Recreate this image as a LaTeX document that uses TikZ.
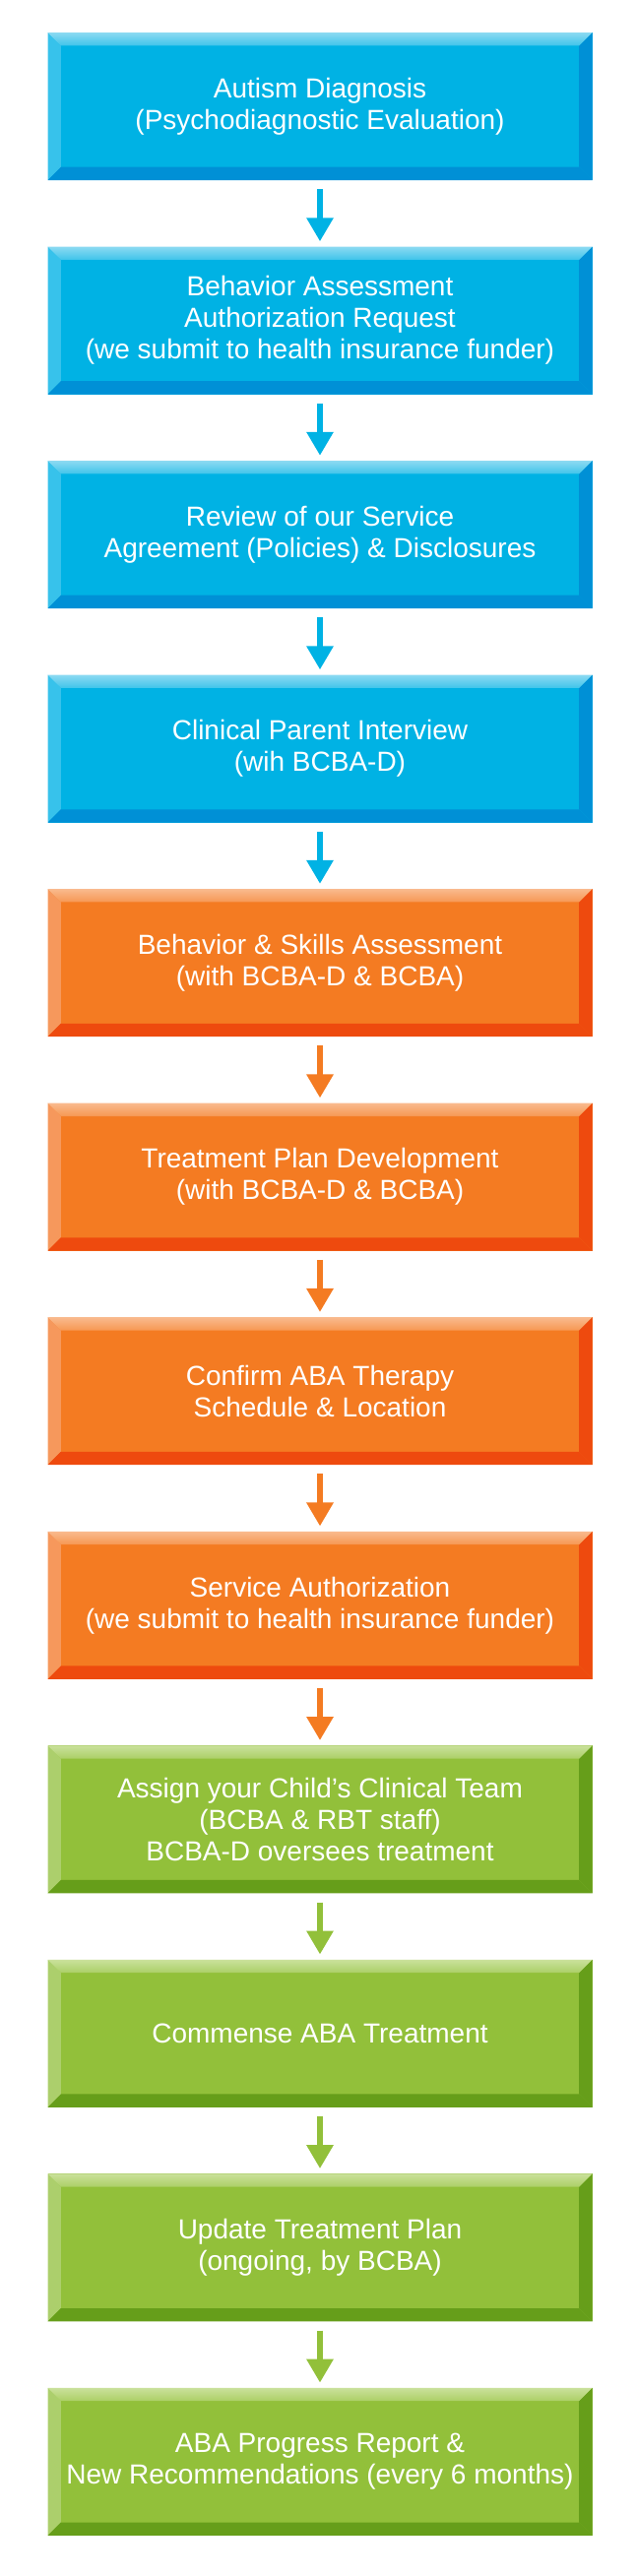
\documentclass[tikz,border=0pt]{standalone}
\usepackage{fontspec}
\setmainfont{Liberation Sans}
\usetikzlibrary{arrows.meta,positioning}
\definecolor{blueMain}{RGB}{0,178,228}
\definecolor{blueTop}{RGB}{140,218,242}
\definecolor{blueSide}{RGB}{55,194,235}
\definecolor{blueDark}{RGB}{0,144,214}
\definecolor{orangeMain}{RGB}{244,123,34}
\definecolor{orangeTop}{RGB}{249,186,142}
\definecolor{orangeSide}{RGB}{246,152,92}
\definecolor{orangeDark}{RGB}{238,74,14}
\definecolor{greenMain}{RGB}{146,192,58}
\definecolor{greenTop}{RGB}{202,225,156}
\definecolor{greenSide}{RGB}{172,207,108}
\definecolor{greenDark}{RGB}{102,158,26}

\begin{document}
\begin{tikzpicture}[
  node distance=50.25pt,
  every node/.style={font=\fontsize{21pt}{24pt}\selectfont, align=center, text=white},
  stage/.style={minimum width=414.75pt, minimum height=112.5pt, inner sep=0pt, fill=#1Main,
    path picture={
      \coordinate (bvNW) at (path picture bounding box.north west);
      \coordinate (bvNE) at (path picture bounding box.north east);
      \coordinate (bvSW) at (path picture bounding box.south west);
      \coordinate (bvSE) at (path picture bounding box.south east);
      \fill[#1Side] (bvNW) -- ([xshift=10pt,yshift=-10pt]bvNW) -- ([xshift=10pt,yshift=10pt]bvSW) -- (bvSW) -- cycle;
      \fill[#1Dark] (bvNE) -- ([xshift=-10pt,yshift=-10pt]bvNE) -- ([xshift=-10pt,yshift=10pt]bvSE) -- (bvSE) -- cycle;
      \fill[#1Dark] (bvSW) -- ([xshift=10pt,yshift=10pt]bvSW) -- ([xshift=-10pt,yshift=10pt]bvSE) -- (bvSE) -- cycle;
      \shade[top color=#1Top, bottom color=#1Main!55!#1Top] (bvNW) -- (bvNE) -- ([xshift=-10pt,yshift=-10pt]bvNE) -- ([xshift=10pt,yshift=-10pt]bvNW) -- cycle;
    }},
  arr/.style={-{Triangle[length=18pt,width=19.5pt]}, line width=4.5pt, #1Main, shorten <=6.75pt, shorten >=3.75pt}
]
\useasboundingbox (0,0) rectangle (484.5pt,-1962.75pt);

\node[stage=blue] (diag) at (243.75pt,-81pt) {Autism Diagnosis\\(Psychodiagnostic Evaluation)};
\node[stage=blue, below=of diag] (authreq) {Behavior Assessment\\Authorization Request\\(we submit to health insurance funder)};
\node[stage=blue, below=of authreq] (agree) {Review of our Service\\Agreement (Policies) \& Disclosures};
\node[stage=blue, below=of agree] (interview) {Clinical Parent Interview\\(wih BCBA-D)};

\node[stage=orange, below=of interview] (assess) {Behavior \& Skills Assessment\\(with BCBA-D \& BCBA)};
\node[stage=orange, below=of assess] (plan) {Treatment Plan Development\\(with BCBA-D \& BCBA)};
\node[stage=orange, below=of plan] (sched) {Confirm ABA Therapy\\Schedule \& Location};
\node[stage=orange, below=of sched] (servauth) {Service Authorization\\(we submit to health insurance funder)};

\node[stage=green, below=of servauth] (team) {Assign your Child's Clinical Team\\(BCBA \& RBT staff)\\BCBA-D oversees treatment};
\node[stage=green, below=of team] (start) {Commense ABA Treatment};
\node[stage=green, below=of start] (update) {Update Treatment Plan\\(ongoing, by BCBA)};
\node[stage=green, below=of update] (report) {ABA Progress Report \&\\New Recommendations (every 6 months)};

\draw[arr=blue] (diag) -- (authreq);
\draw[arr=blue] (authreq) -- (agree);
\draw[arr=blue] (agree) -- (interview);
\draw[arr=blue] (interview) -- (assess);
\draw[arr=orange] (assess) -- (plan);
\draw[arr=orange] (plan) -- (sched);
\draw[arr=orange] (sched) -- (servauth);
\draw[arr=orange] (servauth) -- (team);
\draw[arr=green] (team) -- (start);
\draw[arr=green] (start) -- (update);
\draw[arr=green] (update) -- (report);
\end{tikzpicture}
\end{document}
